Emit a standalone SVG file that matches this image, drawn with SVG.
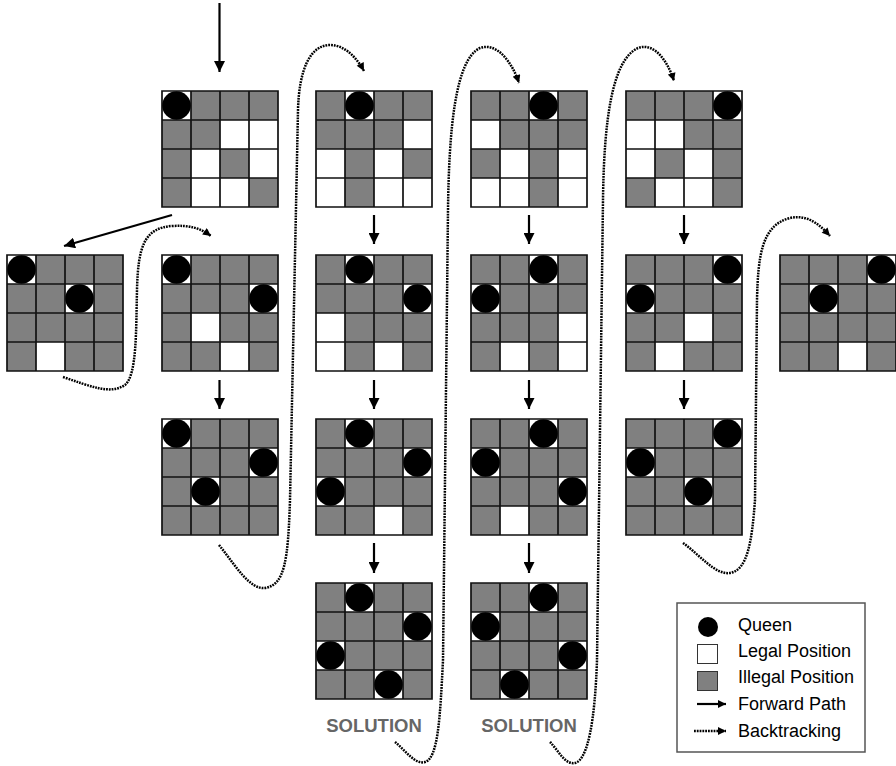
<svg xmlns="http://www.w3.org/2000/svg" xmlns:xlink="http://www.w3.org/1999/xlink" width="896" height="766" viewBox="0 0 896 766">
<style>
.bg{fill:#808080}
.grid{fill:none;stroke:#111;stroke-width:1.7}
.fw{fill:none;stroke:#000;stroke-width:2.2}
.bt{fill:none;stroke:#000;stroke-width:2.5;stroke-dasharray:1.8 1}
.lbl{font-family:"Liberation Sans",Arial,sans-serif;font-size:18px;fill:#000}
.sol{font-family:"Liberation Sans",Arial,sans-serif;font-size:18.5px;font-weight:bold;fill:#666;text-anchor:middle}
</style>
<defs>
<rect id="w" width="29" height="29" fill="#fff"/>
<circle id="q" cx="14.5" cy="14.5" r="14.3" fill="#000"/>
<path id="grid" class="grid" d="M0,0H116V116H0Z M29,0V116 M58,0V116 M87,0V116 M0,29H116 M0,58H116 M0,87H116"/>
<rect id="bgr" class="bg" width="116" height="116"/>
<marker id="ah" markerUnits="userSpaceOnUse" viewBox="0 0 10 10" refX="10" refY="5" markerWidth="11" markerHeight="11" orient="auto"><path d="M0,0L10,5L0,10Z" fill="#000"/></marker>
<marker id="bh" markerUnits="userSpaceOnUse" viewBox="0 0 10 10" refX="10" refY="5" markerWidth="9" markerHeight="8" orient="auto"><path d="M0,0L10,5L0,10Z" fill="#000"/></marker>
</defs>

<g id="board-a" transform="translate(162,91)"><use href="#bgr"/><use href="#w" x="0" y="0"/><use href="#w" x="58" y="29"/><use href="#w" x="87" y="29"/><use href="#w" x="29" y="58"/><use href="#w" x="87" y="58"/><use href="#w" x="29" y="87"/><use href="#w" x="58" y="87"/><use href="#grid"/><use href="#q" x="0" y="0"/></g>
<g id="board-b" transform="translate(316,91)"><use href="#bgr"/><use href="#w" x="29" y="0"/><use href="#w" x="87" y="29"/><use href="#w" x="0" y="58"/><use href="#w" x="58" y="58"/><use href="#w" x="0" y="87"/><use href="#w" x="58" y="87"/><use href="#w" x="87" y="87"/><use href="#grid"/><use href="#q" x="29" y="0"/></g>
<g id="board-c" transform="translate(471,91)"><use href="#bgr"/><use href="#w" x="58" y="0"/><use href="#w" x="0" y="29"/><use href="#w" x="29" y="58"/><use href="#w" x="87" y="58"/><use href="#w" x="0" y="87"/><use href="#w" x="29" y="87"/><use href="#w" x="87" y="87"/><use href="#grid"/><use href="#q" x="58" y="0"/></g>
<g id="board-d" transform="translate(626,91)"><use href="#bgr"/><use href="#w" x="87" y="0"/><use href="#w" x="0" y="29"/><use href="#w" x="29" y="29"/><use href="#w" x="0" y="58"/><use href="#w" x="58" y="58"/><use href="#w" x="29" y="87"/><use href="#w" x="58" y="87"/><use href="#grid"/><use href="#q" x="87" y="0"/></g>

<g id="board-l" transform="translate(7,255)"><use href="#bgr"/><use href="#w" x="0" y="0"/><use href="#w" x="58" y="29"/><use href="#w" x="29" y="87"/><use href="#grid"/><use href="#q" x="0" y="0"/><use href="#q" x="58" y="29"/></g>
<g id="board-e" transform="translate(162,255)"><use href="#bgr"/><use href="#w" x="0" y="0"/><use href="#w" x="87" y="29"/><use href="#w" x="29" y="58"/><use href="#w" x="58" y="87"/><use href="#grid"/><use href="#q" x="0" y="0"/><use href="#q" x="87" y="29"/></g>
<g id="board-f" transform="translate(316,255)"><use href="#bgr"/><use href="#w" x="29" y="0"/><use href="#w" x="87" y="29"/><use href="#w" x="0" y="58"/><use href="#w" x="0" y="87"/><use href="#w" x="58" y="87"/><use href="#grid"/><use href="#q" x="29" y="0"/><use href="#q" x="87" y="29"/></g>
<g id="board-g" transform="translate(471,255)"><use href="#bgr"/><use href="#w" x="58" y="0"/><use href="#w" x="0" y="29"/><use href="#w" x="87" y="58"/><use href="#w" x="29" y="87"/><use href="#w" x="87" y="87"/><use href="#grid"/><use href="#q" x="58" y="0"/><use href="#q" x="0" y="29"/></g>
<g id="board-h" transform="translate(626,255)"><use href="#bgr"/><use href="#w" x="87" y="0"/><use href="#w" x="0" y="29"/><use href="#w" x="58" y="58"/><use href="#w" x="29" y="87"/><use href="#grid"/><use href="#q" x="87" y="0"/><use href="#q" x="0" y="29"/></g>
<g id="board-r" transform="translate(780,255)"><use href="#bgr"/><use href="#w" x="87" y="0"/><use href="#w" x="29" y="29"/><use href="#w" x="58" y="87"/><use href="#grid"/><use href="#q" x="87" y="0"/><use href="#q" x="29" y="29"/></g>

<g id="board-i" transform="translate(162,419)"><use href="#bgr"/><use href="#w" x="0" y="0"/><use href="#w" x="87" y="29"/><use href="#w" x="29" y="58"/><use href="#grid"/><use href="#q" x="0" y="0"/><use href="#q" x="87" y="29"/><use href="#q" x="29" y="58"/></g>
<g id="board-j" transform="translate(316,419)"><use href="#bgr"/><use href="#w" x="29" y="0"/><use href="#w" x="87" y="29"/><use href="#w" x="0" y="58"/><use href="#w" x="58" y="87"/><use href="#grid"/><use href="#q" x="29" y="0"/><use href="#q" x="87" y="29"/><use href="#q" x="0" y="58"/></g>
<g id="board-k" transform="translate(471,419)"><use href="#bgr"/><use href="#w" x="58" y="0"/><use href="#w" x="0" y="29"/><use href="#w" x="87" y="58"/><use href="#w" x="29" y="87"/><use href="#grid"/><use href="#q" x="58" y="0"/><use href="#q" x="0" y="29"/><use href="#q" x="87" y="58"/></g>
<g id="board-m" transform="translate(626,419)"><use href="#bgr"/><use href="#w" x="87" y="0"/><use href="#w" x="0" y="29"/><use href="#w" x="58" y="58"/><use href="#grid"/><use href="#q" x="87" y="0"/><use href="#q" x="0" y="29"/><use href="#q" x="58" y="58"/></g>

<g id="board-s1" transform="translate(316,583)"><use href="#bgr"/><use href="#w" x="29" y="0"/><use href="#w" x="87" y="29"/><use href="#w" x="0" y="58"/><use href="#w" x="58" y="87"/><use href="#grid"/><use href="#q" x="29" y="0"/><use href="#q" x="87" y="29"/><use href="#q" x="0" y="58"/><use href="#q" x="58" y="87"/></g>
<g id="board-s2" transform="translate(471,583)"><use href="#bgr"/><use href="#w" x="58" y="0"/><use href="#w" x="0" y="29"/><use href="#w" x="87" y="58"/><use href="#w" x="29" y="87"/><use href="#grid"/><use href="#q" x="58" y="0"/><use href="#q" x="0" y="29"/><use href="#q" x="87" y="58"/><use href="#q" x="29" y="87"/></g>

<g id="labels">
<text class="sol" x="374" y="732">SOLUTION</text>
<text class="sol" x="529" y="732">SOLUTION</text>
</g>

<g id="connectors">
<path class="fw" marker-end="url(#ah)" d="M219.5,3V72"/>
<path class="fw" marker-end="url(#ah)" d="M172,215L64,246"/>
<path class="fw" marker-end="url(#ah)" d="M374,215V244"/>
<path class="fw" marker-end="url(#ah)" d="M529,215V244"/>
<path class="fw" marker-end="url(#ah)" d="M684,215V244"/>
<path class="fw" marker-end="url(#ah)" d="M219.5,380V409"/>
<path class="fw" marker-end="url(#ah)" d="M374,380V409"/>
<path class="fw" marker-end="url(#ah)" d="M529,380V409"/>
<path class="fw" marker-end="url(#ah)" d="M684,380V409"/>
<path class="fw" marker-end="url(#ah)" d="M374,543V573"/>
<path class="fw" marker-end="url(#ah)" d="M529,543V573"/>
<path class="bt" marker-end="url(#bh)" d="M63,377C90,386 110,395 125,385C137,375 136,330 137,290C138,245 145,228 172,226C190,225 200,228 211,236"/>
<path class="bt" marker-end="url(#bh)" d="M219,545C235,565 250,590 265,588C285,585 288,560 290,500L298,110C299,70 310,45 330,45C345,45 357,58 364,71"/>
<path class="bt" marker-end="url(#bh)" d="M395,742C405,750 415,765 425,762C438,758 440,720 443,660L448,210C449,130 455,60 480,48C497,42 512,62 519,83"/>
<path class="bt" marker-end="url(#bh)" d="M550,742C558,750 565,765 575,763C588,760 595,720 597,660L603,200C604,120 612,60 638,48C655,42 668,62 674,81"/>
<path class="bt" marker-end="url(#bh)" d="M683,543C700,555 715,575 730,573C748,570 752,540 755,500L757,300C758,255 762,225 790,218C808,214 820,225 830,236"/>
</g>

<g id="legend">
<rect x="677" y="603" width="188" height="149" fill="#fff" stroke="#555" stroke-width="1.5"/>
<circle cx="708" cy="627" r="10" fill="#000"/>
<rect x="697.5" y="644.5" width="20" height="19" fill="#fff" stroke="#333" stroke-width="1"/>
<rect x="697.5" y="671.5" width="20" height="19" fill="#808080" stroke="#333" stroke-width="1"/>
<path class="fw" stroke-width="1.6" marker-end="url(#bh)" d="M697,704H726"/>
<path class="bt" stroke-width="1.6" stroke-dasharray="1.2 0.8" marker-end="url(#bh)" d="M694,731H726"/>
<text class="lbl" x="738" y="631">Queen</text>
<text class="lbl" x="738" y="657">Legal Position</text>
<text class="lbl" x="738" y="683">Illegal Position</text>
<text class="lbl" x="738" y="710">Forward Path</text>
<text class="lbl" x="738" y="737">Backtracking</text>
</g>
</svg>
